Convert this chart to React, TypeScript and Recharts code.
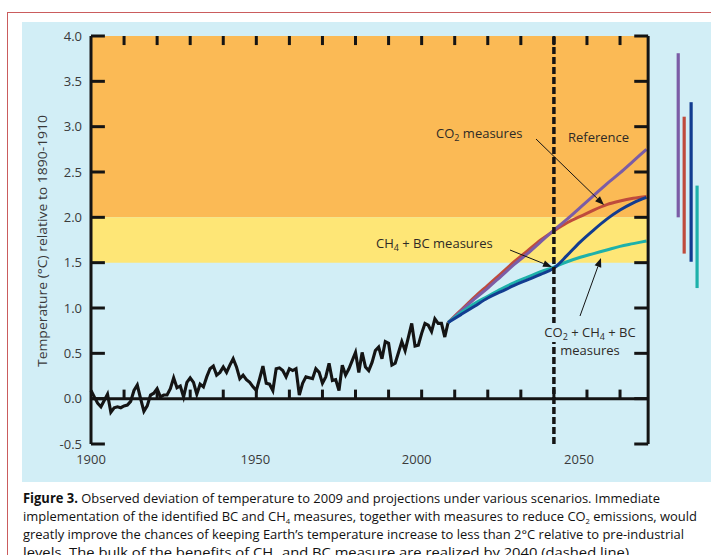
import React from 'react';
import { LineChart, Line, XAxis, YAxis, ReferenceArea, ReferenceLine } from 'recharts';

// observed annual deviation, 1900-2008
const OBS_START = 1900;
const observedTemp = [
  0.09, 0.02, -0.05, -0.09, -0.02, 0.05, -0.15, -0.1, -0.09, -0.1,
  -0.08, -0.07, -0.03, 0.09, 0.15, 0.0, -0.14, -0.08, 0.04, 0.06,
  0.11, 0.02, 0.04, 0.04, 0.11, 0.23, 0.12, 0.14, 0.02, 0.18,
  0.23, 0.18, 0.05, 0.16, 0.13, 0.24, 0.33, 0.36, 0.26, 0.29,
  0.35, 0.29, 0.37, 0.44, 0.35, 0.22, 0.26, 0.21, 0.18, 0.13,
  0.09, 0.22, 0.36, 0.17, 0.16, 0.09, 0.33, 0.34, 0.31, 0.24,
  0.33, 0.31, 0.33, 0.04, 0.17, 0.24, 0.23, 0.22, 0.33, 0.29,
  0.17, 0.24, 0.39, 0.2, 0.21, 0.09, 0.37, 0.26, 0.33, 0.42,
  0.51, 0.29, 0.51, 0.35, 0.31, 0.4, 0.53, 0.57, 0.44, 0.63,
  0.61, 0.37, 0.39, 0.51, 0.63, 0.53, 0.68, 0.83, 0.58, 0.59,
  0.72, 0.83, 0.81, 0.74, 0.88, 0.83, 0.83, 0.68, 0.84,
];

// scenario projections
const projYears = [2008, 2012, 2016, 2020, 2024, 2028, 2032, 2036, 2040, 2044, 2048, 2052, 2056, 2060, 2064, 2068];
const reference = [0.84, 0.97, 1.1, 1.22, 1.35, 1.48, 1.6, 1.73, 1.86, 1.98, 2.11, 2.24, 2.37, 2.49, 2.62, 2.75];
const co2Measures = [0.84, 0.98, 1.12, 1.25, 1.38, 1.51, 1.63, 1.75, 1.85, 1.94, 2.01, 2.08, 2.14, 2.18, 2.21, 2.23];
const ch4BcMeasures = [0.84, 0.93, 1.02, 1.11, 1.18, 1.25, 1.31, 1.37, 1.44, 1.58, 1.73, 1.86, 1.98, 2.08, 2.16, 2.22];
const allMeasures = [0.84, 0.95, 1.05, 1.13, 1.21, 1.28, 1.34, 1.4, 1.45, 1.51, 1.56, 1.6, 1.64, 1.68, 1.71, 1.74];

// uncertainty ranges at right of the plot: [x position (year), low, high]
const rangeRef = [2077.6, 2.0, 3.81];
const rangeCo2 = [2079.4, 1.6, 3.11];
const rangeCh4Bc = [2081.5, 1.51, 3.27];
const rangeAll = [2083.3, 1.22, 2.35];

const xLabelTicks = [1900, 1950, 2000, 2050];
const decadeTicks = [1910, 1920, 1930, 1940, 1950, 1960, 1970, 1980, 1990, 2000, 2010, 2020, 2030, 2040, 2050, 2060];
const yTicks = [-0.5, 0, 0.5, 1, 1.5, 2, 2.5, 3, 3.5, 4];

const X_MIN = 1900;
const X_END = 2068.5; // right edge of the frame
const DASH_YEAR = 2040;

const PURPLE = '#7B5CA6';
const RED = '#BF4B3C';
const BLUE = '#123C90';
const TEAL = '#1EB1AA';
const ORANGE = '#FBBA55';
const YELLOW = '#FEE676';
const SKY = '#D2EEF6';
const INK = '#141414';

const observed = observedTemp.map((v, i) => ({ year: OBS_START + i, v }));
const proj = (vals: number[]) => projYears.map((year, i) => ({ year, v: vals[i] }));
const range = (r: number[]) => [
  { year: r[0], v: r[1] },
  { year: r[0], v: r[2] },
];

const font = "'Open Sans', 'Noto Sans', sans-serif";

// year labels in the original sit a little left of their ticks
const labelShift: Record<number, number> = { 1900: 0, 1950: -1, 2000: -5, 2050: -8 };

function YearTick(props: any) {
  const { x, y, payload } = props;
  return (
    <text x={x + (labelShift[payload.value] || 0)} y={y} dy="0.71em" textAnchor="middle" fontSize={13} fill="#3a3a3a" fontFamily={font}>
      {payload.value}
    </text>
  );
}

function Arrow({ x1, y1, x2, y2 }: { x1: number; y1: number; x2: number; y2: number }) {
  const dx = x2 - x1;
  const dy = y2 - y1;
  const len = Math.sqrt(dx * dx + dy * dy);
  const ux = dx / len;
  const uy = dy / len;
  const hl = 9;
  const hw = 3.5;
  const bx = x2 - ux * hl;
  const by = y2 - uy * hl;
  const pts = `${x2},${y2} ${bx - uy * hw},${by + ux * hw} ${bx + uy * hw},${by - ux * hw}`;
  return (
    <g>
      <line x1={x1} y1={y1} x2={bx} y2={by} stroke={INK} strokeWidth={1} />
      <polygon points={pts} fill={INK} />
    </g>
  );
}

export default function App() {
  const frame = { stroke: INK, strokeWidth: 3 };
  return (
    <div style={{ position: 'absolute', left: 0, top: 0, width: 711, height: 555, overflow: 'hidden', background: '#fff' }}>
      <div style={{ position: 'absolute', left: 7, top: 12, width: 740, height: 620, border: '1.5px solid #CA5C5D', boxSizing: 'border-box' }} />
      <div style={{ position: 'absolute', left: 22, top: 22, width: 720, height: 460, background: SKY }} />
      <div style={{ position: 'absolute', left: 0, top: 0 }}>
        <LineChart width={711} height={555} margin={{ top: 36, right: 5, bottom: 81, left: 31 }}>
          <XAxis
            type="number"
            dataKey="year"
            domain={[X_MIN, 2086]}
            ticks={xLabelTicks}
            axisLine={false}
            tickLine={false}
            tickSize={0}
            tickMargin={11}
            height={30}
            tick={<YearTick />}
          />
          <YAxis
            type="number"
            domain={[-0.5, 4]}
            ticks={yTicks}
            axisLine={false}
            tickLine={false}
            tickSize={0}
            tickMargin={9}
            width={60}
            tickFormatter={(v: number) => v.toFixed(1)}
            tick={{ fontSize: 13, fill: '#3a3a3a', fontFamily: font }}
          />

          <ReferenceArea x1={X_MIN} x2={X_END} y1={2} y2={4} fill={ORANGE} fillOpacity={1} stroke="none" />
          <ReferenceArea x1={X_MIN} x2={X_END} y1={1.5} y2={2} fill={YELLOW} fillOpacity={1} stroke="none" />

          {decadeTicks.map((t) => (
            <ReferenceLine key={'t' + t} segment={[{ x: t, y: 4 }, { x: t, y: 3.9 }]} {...frame} />
          ))}
          {decadeTicks.map((t) => (
            <ReferenceLine key={'z' + t} segment={[{ x: t, y: 0 }, { x: t, y: 0.1 }]} {...frame} />
          ))}
          {yTicks.map((t) => (
            <ReferenceLine key={'l' + t} segment={[{ x: X_MIN, y: t }, { x: X_MIN + 4.2, y: t }]} {...frame} />
          ))}
          {yTicks.map((t) => (
            <ReferenceLine key={'r' + t} segment={[{ x: X_END - 4.2, y: t }, { x: X_END, y: t }]} {...frame} />
          ))}
          <ReferenceLine segment={[{ x: X_MIN, y: 0 }, { x: X_END, y: 0 }]} {...frame} />

          <Line data={observed} dataKey="v" type="linear" stroke={INK} strokeWidth={3.1} dot={false} isAnimationActive={false} />
          <Line data={proj(co2Measures)} dataKey="v" type="monotone" stroke={RED} strokeWidth={3} dot={false} isAnimationActive={false} />
          <Line data={proj(reference)} dataKey="v" type="monotone" stroke={PURPLE} strokeWidth={3} dot={false} isAnimationActive={false} />
          <Line data={proj(allMeasures)} dataKey="v" type="monotone" stroke={TEAL} strokeWidth={3} dot={false} isAnimationActive={false} />
          <Line data={proj(ch4BcMeasures)} dataKey="v" type="monotone" stroke={BLUE} strokeWidth={3} dot={false} isAnimationActive={false} />

          <Line data={range(rangeRef)} dataKey="v" stroke={PURPLE} strokeWidth={3.2} dot={false} isAnimationActive={false} />
          <Line data={range(rangeCo2)} dataKey="v" stroke={RED} strokeWidth={3.2} dot={false} isAnimationActive={false} />
          <Line data={range(rangeCh4Bc)} dataKey="v" stroke={BLUE} strokeWidth={3.2} dot={false} isAnimationActive={false} />
          <Line data={range(rangeAll)} dataKey="v" stroke={TEAL} strokeWidth={3.2} dot={false} isAnimationActive={false} />

          <ReferenceLine segment={[{ x: X_MIN, y: -0.5 }, { x: X_MIN, y: 4 }]} {...frame} />
          <ReferenceLine segment={[{ x: X_END, y: -0.5 }, { x: X_END, y: 4 }]} {...frame} />
          <ReferenceLine segment={[{ x: X_MIN - 0.45, y: 4 }, { x: X_END + 0.45, y: 4 }]} stroke={INK} strokeWidth={3.5} />
          <ReferenceLine segment={[{ x: DASH_YEAR, y: -0.5 }, { x: DASH_YEAR, y: 4 }]} stroke={INK} strokeWidth={3.5} strokeDasharray="7 3" />
        </LineChart>
      </div>

      <svg width={711} height={555} style={{ position: 'absolute', left: 0, top: 0, pointerEvents: 'none' }}>
        <text
          transform="translate(47,241) rotate(-90)"
          textAnchor="middle"
          fontSize={13.5}
          fill="#3a3a3a"
          fontFamily={font}
          textLength={252}
          lengthAdjust="spacingAndGlyphs"
        >
          Temperature (°C) relative to 1890-1910
        </text>

        <rect x={536} y={323} width={108} height={19} fill={SKY} />

        <g fontFamily={font} fontSize={13} fill="#2e2a26">
          <text x={436} y={137.5}>
            CO<tspan fontSize={9} dy={3.5}>2</tspan>
            <tspan dy={-3.5}> measures</tspan>
          </text>
          <text x={568} y={141.5}>Reference</text>
          <text x={376} y={247.5}>
            CH<tspan fontSize={9} dy={3.5}>4</tspan>
            <tspan dy={-3.5}> + BC measures</tspan>
          </text>
          <text x={590} y={336.5} textAnchor="middle">
            CO<tspan fontSize={9} dy={3.5}>2</tspan>
            <tspan dy={-3.5}> + CH</tspan>
            <tspan fontSize={9} dy={3.5}>4</tspan>
            <tspan dy={-3.5}> + BC</tspan>
          </text>
          <text x={590} y={355} textAnchor="middle">measures</text>
        </g>

        <Arrow x1={536} y1={139} x2={604} y2={205} />
        <Arrow x1={510} y1={250} x2={552} y2={267} />
        <Arrow x1={580} y1={316} x2={601} y2={258} />

        <g fontFamily="'Liberation Sans Narrow', 'Open Sans', sans-serif" fontSize={13.5} fill="#111">
          <text x={23} y={503} textLength={637} lengthAdjust="spacingAndGlyphs">
            <tspan fontWeight="bold">Figure 3.</tspan> Observed deviation of temperature to 2009 and projections under various scenarios. Immediate
          </text>
          <text x={23} y={521} textLength={674} lengthAdjust="spacingAndGlyphs">
            implementation of the identified BC and CH<tspan fontSize={8} dy={3}>4</tspan>
            <tspan dy={-3}> measures, together with measures to reduce CO</tspan>
            <tspan fontSize={8} dy={3}>2</tspan>
            <tspan dy={-3}> emissions, would</tspan>
          </text>
          <text x={23} y={539} textLength={661} lengthAdjust="spacingAndGlyphs">
            greatly improve the chances of keeping Earth’s temperature increase to less than 2°C relative to pre-industrial
          </text>
          <text x={23} y={557} textLength={610} lengthAdjust="spacingAndGlyphs">
            levels. The bulk of the benefits of CH<tspan fontSize={8} dy={3}>4</tspan>
            <tspan dy={-3}> and BC measure are realized by 2040 (dashed line).</tspan>
          </text>
        </g>
      </svg>
    </div>
  );
}
